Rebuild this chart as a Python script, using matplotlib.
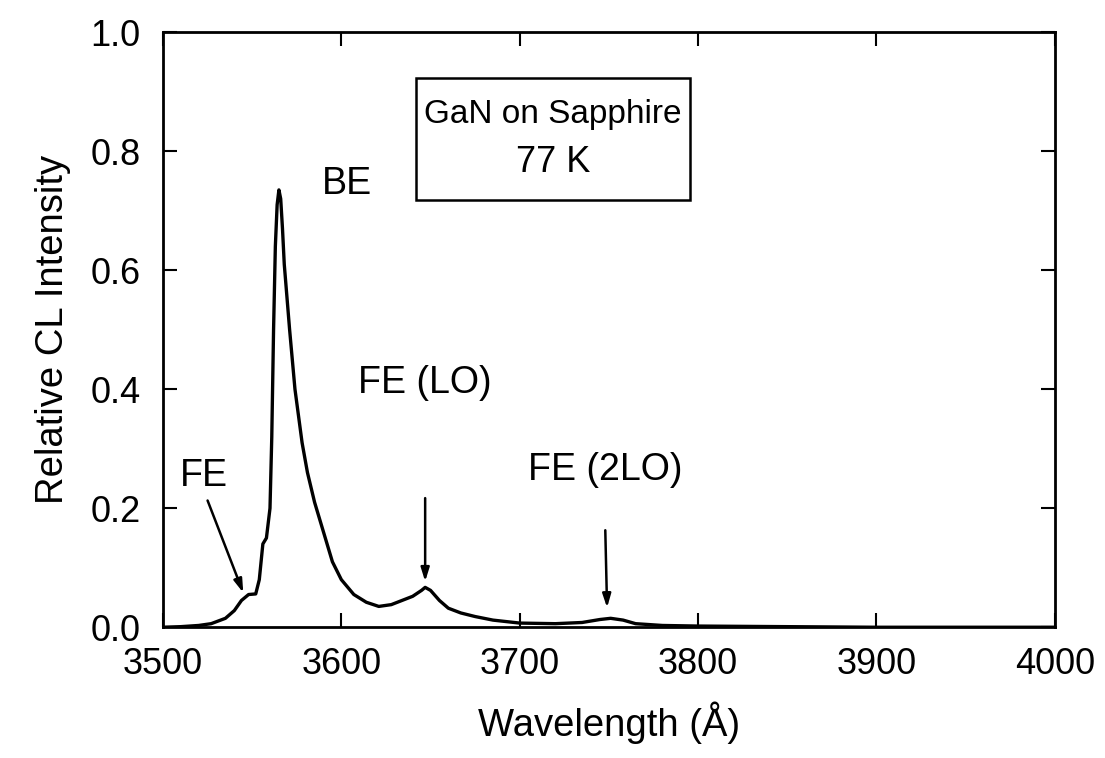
import matplotlib
matplotlib.use("Agg")
import matplotlib.pyplot as plt
from matplotlib.patches import Rectangle

plt.rcParams['font.family'] = ['Liberation Sans', 'DejaVu Sans']

wavelength = [3500, 3510, 3520, 3527, 3535, 3540, 3544, 3548, 3552, 3554, 3556, 3558,
              3560, 3561, 3562, 3563, 3564, 3565, 3566, 3567, 3568, 3571, 3574, 3578, 3581, 3585,
              3590, 3595, 3600, 3607, 3614, 3621, 3628, 3634, 3640, 3645, 3647, 3650,
              3655, 3660, 3667, 3675, 3685, 3700, 3720, 3735, 3745, 3751, 3758, 3765,
              3780, 3800, 3850, 3900, 3950, 4000]
intensity = [0.0, 0.001, 0.003, 0.006, 0.015, 0.028, 0.045, 0.055, 0.056, 0.08, 0.14, 0.15,
             0.2, 0.32, 0.5, 0.64, 0.71, 0.735, 0.72, 0.67, 0.61, 0.50, 0.40, 0.31, 0.26, 0.21,
             0.16, 0.11, 0.08, 0.055, 0.042, 0.035, 0.038, 0.045, 0.052, 0.062, 0.067, 0.062,
             0.045, 0.032, 0.024, 0.018, 0.012, 0.007, 0.006, 0.008, 0.013, 0.015, 0.012, 0.006,
             0.003, 0.002, 0.001, 0.0, 0.0, 0.0]

x_ticks = [3500, 3600, 3700, 3800, 3900, 4000]
y_ticks = [0.0, 0.2, 0.4, 0.6, 0.8, 1.0]

fig = plt.figure(figsize=(11.05, 7.58), dpi=100)
ax = fig.add_axes([0.1475, 0.1725, 0.807, 0.785])
ax.plot(wavelength, intensity, color='black', lw=2.4, solid_joinstyle='round')
ax.set_xlim(3500, 4000)
ax.set_ylim(0, 1.0)
ax.set_xticks(x_ticks)
ax.set_yticks(y_ticks)
ax.set_yticklabels([f"{v:.1f}" for v in y_ticks])
for s in ax.spines.values():
    s.set_linewidth(2)
ax.tick_params(direction='in', length=10, width=1.5, top=True, right=True, labelsize=26)
ax.tick_params(axis='x', pad=14)
ax.tick_params(axis='y', pad=16)
ax.set_xlabel("Wavelength (Å)", fontsize=27.5, labelpad=14)
ax.set_ylabel("Relative CL Intensity", fontsize=27.5, labelpad=14)

fs = 27
ax.text(3523, 0.255, "FE", fontsize=fs, ha='center', va='center')
ax.text(3603, 0.745, "BE", fontsize=fs, ha='center', va='center')
ax.text(3647, 0.41, "FE (LO)", fontsize=fs, ha='center', va='center')
ax.text(3748, 0.265, "FE (2LO)", fontsize=fs, ha='center', va='center')

arrow = dict(arrowstyle='-|>,head_length=0.8,head_width=0.25', color='black', lw=1.8,
             shrinkA=0, shrinkB=0)
ax.annotate("", xy=(3545, 0.058), xytext=(3525, 0.213), arrowprops=arrow)
ax.annotate("", xy=(3647, 0.077), xytext=(3647, 0.217), arrowprops=arrow)
ax.annotate("", xy=(3749, 0.033), xytext=(3748, 0.163), arrowprops=arrow)

ax.add_patch(Rectangle((0.284, 0.718), 0.307, 0.205, transform=ax.transAxes,
                       fill=False, lw=1.8, edgecolor='black'))
ax.text(0.4375, 0.848, "GaN on Sapphire", transform=ax.transAxes, fontsize=24,
        ha='center', va='baseline')
ax.text(0.4375, 0.765, "77 K", transform=ax.transAxes, fontsize=26,
        ha='center', va='baseline')

fig.savefig("out.png", dpi=100)
